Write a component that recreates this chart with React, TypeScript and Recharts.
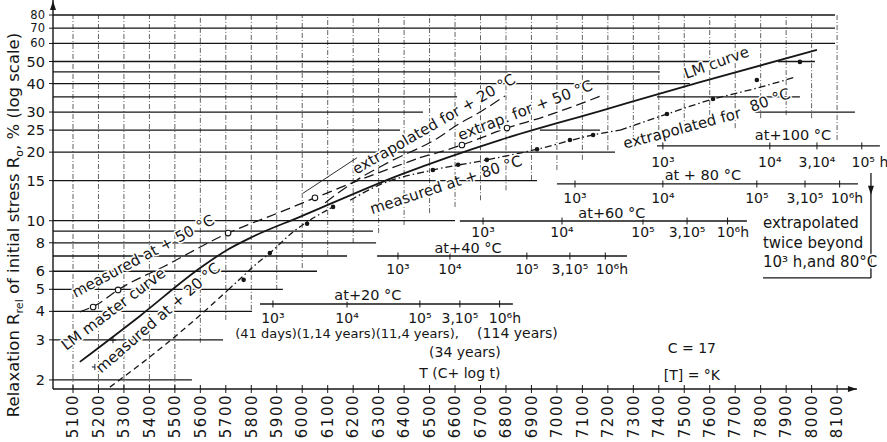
import React from 'react';
import {
  ComposedChart,
  Line,
  Scatter,
  XAxis,
  YAxis,
  ReferenceLine,
  ReferenceDot,
} from 'recharts';

const INK = '#161616';
const FONT = '"DejaVu Sans", Verdana, sans-serif';

// ── Ejes ─────────────────────────────────────────────────────────────────────
const xTicks = [
  5100, 5200, 5300, 5400, 5500, 5600, 5700, 5800, 5900, 6000, 6100, 6200, 6300, 6400, 6500, 6600,
  6700, 6800, 6900, 7000, 7100, 7200, 7300, 7400, 7500, 7600, 7700, 7800, 7900, 8000, 8100,
];
const yTicks = [2, 3, 4, 5, 6, 8, 10, 15, 20, 25, 30, 40, 50, 60, 70, 80];
const xDomain: [number, number] = [5021.5, 8296];
const yDomain: [number, number] = [1.825, 93.1];
const xAxisEnd = 8178;

// lower end of each dash-dot vertical grid line (they all reach 80)
const vGridBottoms = [
  1.825, 1.825, 1.825, 1.825, 1.825, 2.91, 3.67, 4.06, 4.97, 6.2, 7.07, 7.98, 8.83, 9.58, 10.8,
  11.5, 12.3, 13.6, 15.1, 16.7, 18.5, 20.4, 22.6, 25.0, 25.5, 26.3, 25.5, 28.2, 29.1, 28.2, 22.6,
];

// horizontal grid lines: [level, from, to]
const hGrid: [number, number, number][] = [
  [80, 5021.5, 8092], [70, 5021.5, 8092], [60, 5021.5, 8092],
  [50, 5021.5, 7609], [50, 7868, 8013],
  [45, 5021.5, 7404],
  [40, 5021.5, 7522],
  [35, 5021.5, 6608], [35, 7393, 7954],
  [30, 5021.5, 6474], [30, 7778, 8170],
  [25, 5021.5, 6384], [25, 6933, 7169],
  [20, 5021.5, 7228],
  [15, 5021.5, 6922],
  [10, 5021.5, 6600],
  [9, 5021.5, 6278],
  [8, 5021.5, 6290],
  [7, 5021.5, 6176],
  [6, 5021.5, 6058],
  [5, 5021.5, 5924],
  [4, 5021.5, 5803],
  [3, 5021.5, 5689],
  [2, 5021.5, 5567],
];

// ── Curvas ───────────────────────────────────────────────────────────────────
const lmMaster = [
  { x: 5127, y: 2.4 }, { x: 5363, y: 3.82 }, { x: 5599, y: 6.2 }, { x: 5705, y: 7.44 },
  { x: 5803, y: 8.48 }, { x: 5991, y: 10.4 }, { x: 6384, y: 15.9 }, { x: 6776, y: 22.6 },
  { x: 7169, y: 30.3 }, { x: 7562, y: 40.6 }, { x: 8021, y: 56.2 },
];
const measured50 = [
  { x: 5127, y: 3.98 }, { x: 5198, y: 4.31 }, { x: 5277, y: 4.97 }, { x: 5461, y: 6.33 },
  { x: 5709, y: 8.83 }, { x: 5913, y: 10.9 }, { x: 6050, y: 12.6 }, { x: 6278, y: 15.9 },
  { x: 6462, y: 18.9 },
];
const extrap50 = [
  { x: 6462, y: 18.9 }, { x: 6627, y: 21.5 }, { x: 6804, y: 25.5 }, { x: 6945, y: 28.5 },
  { x: 7181, y: 35.6 },
];
const circles50 = [
  { x: 5179, y: 4.18 }, { x: 5277, y: 4.97 }, { x: 5709, y: 8.83 }, { x: 6050, y: 12.6 },
  { x: 6627, y: 21.5 }, { x: 6804, y: 25.5 },
];
const measured20a = [
  { x: 5245, y: 1.86 }, { x: 5461, y: 2.85 }, { x: 5591, y: 3.78 }, { x: 5709, y: 4.97 },
];
const measured20b = [
  { x: 5709, y: 4.97 }, { x: 5764, y: 5.66 }, { x: 5815, y: 6.39 }, { x: 5873, y: 7.22 },
  { x: 5964, y: 8.92 }, { x: 6121, y: 11.5 },
];
const dots20 = [
  { x: 5770, y: 5.5 }, { x: 5873, y: 7.22 }, { x: 6019, y: 9.7 }, { x: 6121, y: 11.5 },
];
const extrap20 = [
  { x: 6090, y: 12.0 }, { x: 6215, y: 15.1 }, { x: 6333, y: 17.9 }, { x: 6533, y: 23.1 },
  { x: 6608, y: 26.3 }, { x: 6698, y: 30.0 }, { x: 6796, y: 35.3 },
];
const leader20 = [{ x: 6003, y: 13.2 }, { x: 6215, y: 18.9 }];
const measured80 = [
  { x: 6188, y: 12.3 }, { x: 6305, y: 14.4 }, { x: 6513, y: 16.7 }, { x: 6725, y: 18.5 },
  { x: 6922, y: 20.6 }, { x: 7142, y: 23.8 }, { x: 7248, y: 25.0 },
];
const dots80 = [
  { x: 6513, y: 16.7 }, { x: 6612, y: 17.6 }, { x: 6725, y: 18.5 }, { x: 6922, y: 20.6 },
  { x: 7051, y: 22.6 }, { x: 7142, y: 23.8 },
];
const extrap80 = [
  { x: 7248, y: 25.0 }, { x: 7432, y: 29.4 }, { x: 7613, y: 34.2 }, { x: 7785, y: 38.2 },
  { x: 7935, y: 42.7 },
];
const dots80x = [
  { x: 7432, y: 29.4 }, { x: 7613, y: 34.2 }, { x: 7785, y: 41.5 }, { x: 7954, y: 49.8 },
];
const plusMarks = [{ x: 5257, y: 2.99 }, { x: 5186, y: 2.28 }];

// ── Textos ───────────────────────────────────────────────────────────────────
const curveLabels = [
  { text: 'measured  at + 50 °C', x: 5375, y: 7.0, angle: -28 },
  { text: 'LM master curve', x: 5258, y: 4.1, angle: -37 },
  { text: 'measured at + 20 °C', x: 5433, y: 3.75, angle: -41 },
  { text: 'extrapolated for + 20 °C', x: 6517, y: 26.6, angle: -30 },
  { text: 'extrap. for + 50 °C', x: 6875, y: 30.6, angle: -21 },
  { text: 'measured  at + 80 °C', x: 6564, y: 14.4, angle: -18 },
  { text: 'LM curve', x: 7626, y: 49.5, angle: -20 },
  { text: 'extrapolated for', x: 7491, y: 25.5, angle: -15 },
  { text: '80 °C', x: 7836, y: 33.9, angle: -20 },
];

const tempScales = [
  {
    title: 'at+100 °C', titleX: 7927, titleY: 23.8, lineY: 21.3, from: 7393, to: 8268, labelY: 18.1,
    labels: ['10³', '10⁴', '3,10⁴', '10⁵ h'], labelX: [7416, 7836, 8021, 8229],
    tickX: [7416, 7836, 8021, 8197],
  },
  {
    title: 'at + 80 °C', titleX: 7573, titleY: 15.9, lineY: 14.5, from: 7000, to: 8182, labelY: 12.6,
    labels: ['10³', '10⁴', '10⁵', '3,10⁵', '10⁶h'], labelX: [7071, 7416, 7785, 7974, 8139],
    tickX: [7071, 7416, 7785, 7974, 8110],
  },
  {
    title: 'at+60 °C', titleX: 7216, titleY: 10.8, lineY: 9.97, from: 6619, to: 7746, labelY: 8.92,
    labels: ['10³', '10⁴', '10⁵', '3,10⁵', '10⁶h'], labelX: [6710, 7020, 7338, 7511, 7691],
    tickX: [6710, 7020, 7338, 7511, 7670],
  },
  {
    title: 'at+40 °C', titleX: 6651, titleY: 7.59, lineY: 7.0, from: 6294, to: 7275, labelY: 6.14,
    labels: ['10³', '10⁴', '10⁵', '3,10⁵', '10⁶h'], labelX: [6376, 6580, 6882, 7051, 7216],
    tickX: [6376, 6580, 6882, 7051, 7190],
  },
  {
    title: 'at+20 °C', titleX: 6258, titleY: 4.72, lineY: 4.31, from: 5834, to: 6827, labelY: 3.74,
    labels: ['10³', '10⁴', '10⁵', '3,10⁵', '10⁶h'], labelX: [5885, 6176, 6462, 6619, 6796],
    tickX: [5885, 6176, 6462, 6619, 6775],
  },
];

const notes = [
  { text: '(41 days)(1,14 years)(11,4 years),', x: 6176, y: 3.21 },
  { text: '(114 years)', x: 6845, y: 3.21 },
  { text: '(34 years)', x: 6639, y: 2.65 },
  { text: 'T (C+ log t)', x: 6619, y: 2.15 },
  { text: 'C = 17', x: 7530, y: 2.76 },
  { text: '[T] = °K', x: 7530, y: 2.1 },
];
const boxLines = ['extrapolated', 'twice beyond', '10³ h,and 80°C'];
const boxLineY = [9.77, 7.98, 6.59];
const boxLeft = 7809;
const boxRight = 8233;
const boxTop = 16.2;
const boxBottom = 5.61;

// ── Formas ───────────────────────────────────────────────────────────────────
const textShape =
  (text: string, angle = 0, size = 14.5, anchor: 'middle' | 'start' = 'middle') =>
  (p: any) => (
    <text
      x={p.cx}
      y={p.cy}
      dy="0.35em"
      textAnchor={anchor}
      fontSize={size}
      fill={INK}
      stroke="#fff"
      strokeWidth={3}
      strokeLinejoin="round"
      paintOrder="stroke"
      transform={angle ? `rotate(${angle} ${p.cx} ${p.cy})` : undefined}
    >
      {text}
    </text>
  );

const tickShape = (p: any) => (
  <line x1={p.cx} x2={p.cx} y1={p.cy - 3.5} y2={p.cy + 3.5} stroke={INK} strokeWidth={1} />
);
const arrowRight = (p: any) => (
  <path d={`M${p.cx},${p.cy} l-9,-3 l0,6 z`} fill={INK} />
);
const arrowUp = (p: any) => (
  <path d={`M${p.cx},${p.cy + 1} l-3,9 l6,0 z`} fill={INK} />
);
const arrowDown = (p: any) => (
  <path d={`M${p.cx},${p.cy} l-3,-9 l6,0 z`} fill={INK} />
);
const openCircle = (p: any) => (
  <circle cx={p.cx} cy={p.cy} r={2.8} fill="#fff" stroke={INK} strokeWidth={1.1} />
);
const fullDot = (p: any) => <circle cx={p.cx} cy={p.cy} r={2.3} fill={INK} />;
const plusShape = (p: any) => (
  <path d={`M${p.cx - 3},${p.cy} h6 M${p.cx},${p.cy - 3} v6`} stroke={INK} strokeWidth={1} />
);

const renderXTick = ({ x, y, payload }: any) => (
  <g>
    <line x1={x} x2={x} y1={y - 9} y2={y - 1} stroke={INK} strokeWidth={1} />
    <text
      x={x}
      y={y}
      dy="0.35em"
      textAnchor="end"
      fontSize={15}
      letterSpacing={1.5}
      fill={INK}
      transform={`rotate(-90 ${x} ${y})`}
    >
      {payload.value}
    </text>
  </g>
);

// the top three labels sit very close together, so they are set smaller
const renderYTick = ({ x, y, payload }: any) => (
  <text x={x} y={y} dy="0.35em" textAnchor="end" fontSize={payload.value >= 60 ? 11.5 : 14.5} fill={INK}>
    {payload.value}
  </text>
);

const renderYTitle = () => (
  <text transform="translate(13 225) rotate(-90)" textAnchor="middle" dy="0.35em" fontSize={16.5} fill={INK}>
    Relaxation R
    <tspan fontSize={11} dy={4}>rel</tspan>
    <tspan dy={-4}> of initial stress R</tspan>
    <tspan fontSize={11} dy={4}>o</tspan>
    <tspan dy={-4}>, % (log scale)</tspan>
  </text>
);

const lineProps = {
  dataKey: 'y',
  type: 'monotone' as const,
  stroke: INK,
  dot: false,
  activeDot: false,
  isAnimationActive: false,
};

export default function App() {
  return (
    <div style={{ position: 'absolute', left: 0, top: 0, fontFamily: FONT, background: '#fff' }}>
      <ComposedChart width={887} height={442} margin={{ top: 0, right: 0, bottom: 0, left: 0 }}>
        <XAxis
          type="number"
          dataKey="x"
          domain={xDomain}
          allowDataOverflow
          ticks={xTicks}
          interval={0}
          height={53}
          tickSize={0}
          tickMargin={5}
          axisLine={false}
          tick={renderXTick}
        />
        <YAxis
          type="number"
          scale="log"
          domain={yDomain}
          allowDataOverflow
          ticks={yTicks}
          interval={0}
          width={53}
          tickSize={4}
          tickMargin={4}
          axisLine={{ stroke: INK, strokeWidth: 1.4 }}
          tickLine={{ stroke: INK }}
          tick={renderYTick}
          label={{ content: renderYTitle }}
        />

        {/* rejilla vertical punto-raya */}
        {xTicks.map((t, i) => (
          <ReferenceLine
            key={`v${t}`}
            segment={[{ x: t, y: vGridBottoms[i] }, { x: t, y: 80 }]}
            stroke="#3a3a3a"
            strokeWidth={0.8}
            strokeDasharray="5 2 1 2"
            ifOverflow="visible"
          />
        ))}

        {/* rejilla horizontal escalonada */}
        {hGrid.map(([v, a, b], i) => (
          <ReferenceLine
            key={`h${i}`}
            segment={[{ x: a, y: v }, { x: b, y: v }]}
            stroke={INK}
            strokeWidth={1.3}
            ifOverflow="visible"
          />
        ))}

        {/* eje x con flecha */}
        <ReferenceLine
          segment={[{ x: xDomain[0], y: yDomain[0] }, { x: xAxisEnd, y: yDomain[0] }]}
          stroke={INK}
          strokeWidth={1.4}
          ifOverflow="visible"
        />
        <ReferenceDot x={xAxisEnd} y={yDomain[0]} r={0} shape={arrowRight} ifOverflow="visible" />
        <ReferenceDot x={xDomain[0]} y={yDomain[1]} r={0} shape={arrowUp} ifOverflow="visible" />

        {/* escalas de tiempo por temperatura */}
        {tempScales.map((s, i) => (
          <ReferenceLine
            key={`sl${i}`}
            segment={[{ x: s.from, y: s.lineY }, { x: s.to, y: s.lineY }]}
            stroke={INK}
            strokeWidth={1.3}
            ifOverflow="visible"
          />
        ))}
        {tempScales.flatMap((s, i) =>
          s.tickX.map((tx, j) => (
            <ReferenceDot key={`st${i}-${j}`} x={tx} y={s.lineY} r={0} shape={tickShape} ifOverflow="visible" />
          ))
        )}

        {/* recuadro de nota */}
        <ReferenceLine
          segment={[{ x: boxRight, y: boxTop }, { x: boxRight, y: boxBottom }]}
          stroke={INK}
          strokeWidth={1.3}
          ifOverflow="visible"
        />
        <ReferenceLine
          segment={[{ x: boxLeft, y: boxBottom }, { x: boxRight, y: boxBottom }]}
          stroke={INK}
          strokeWidth={1.3}
          ifOverflow="visible"
        />
        <ReferenceDot x={boxRight} y={13.0} r={0} shape={arrowDown} ifOverflow="visible" />

        {/* curvas */}
        <Line {...lineProps} data={lmMaster} strokeWidth={1.8} />
        <Line {...lineProps} data={measured50} strokeWidth={1.3} strokeDasharray="10 5" />
        <Line {...lineProps} data={extrap50} strokeWidth={1.3} strokeDasharray="10 5" />
        <Line {...lineProps} data={measured20a} strokeWidth={1.3} strokeDasharray="6 4" />
        <Line {...lineProps} data={measured20b} strokeWidth={1.3} strokeDasharray="6 3 1.5 3" />
        <Line {...lineProps} data={extrap20} strokeWidth={1.2} strokeDasharray="11 5" />
        <Line {...lineProps} type="linear" data={leader20} strokeWidth={0.9} />
        <Line {...lineProps} data={measured80} strokeWidth={1.3} strokeDasharray="7 3 1.5 3" />
        <Line {...lineProps} data={extrap80} strokeWidth={1.3} strokeDasharray="7 3 1.5 3" />

        <Scatter data={circles50} dataKey="y" shape={openCircle} isAnimationActive={false} />
        <Scatter data={dots20} dataKey="y" shape={fullDot} isAnimationActive={false} />
        <Scatter data={dots80} dataKey="y" shape={fullDot} isAnimationActive={false} />
        <Scatter data={dots80x} dataKey="y" shape={fullDot} isAnimationActive={false} />
        <Scatter data={plusMarks} dataKey="y" shape={plusShape} isAnimationActive={false} />

        {/* rótulos */}
        {curveLabels.map((c, i) => (
          <ReferenceDot
            key={`cl${i}`}
            x={c.x}
            y={c.y}
            r={0}
            shape={textShape(c.text, c.angle, 15)}
            ifOverflow="visible"
          />
        ))}
        {tempScales.map((s, i) => (
          <ReferenceDot
            key={`tt${i}`}
            x={s.titleX}
            y={s.titleY}
            r={0}
            shape={textShape(s.title, 0, 14.5)}
            ifOverflow="visible"
          />
        ))}
        {tempScales.flatMap((s, i) =>
          s.labels.map((lb, j) => (
            <ReferenceDot
              key={`tl${i}-${j}`}
              x={s.labelX[j]}
              y={s.labelY}
              r={0}
              shape={textShape(lb, 0, 14)}
              ifOverflow="visible"
            />
          ))
        )}
        {notes.map((n, i) => (
          <ReferenceDot
            key={`n${i}`}
            x={n.x}
            y={n.y}
            r={0}
            shape={textShape(n.text, 0, i === 0 ? 13 : 14)}
            ifOverflow="visible"
          />
        ))}
        {boxLines.map((t, i) => (
          <ReferenceDot
            key={`b${i}`}
            x={boxLeft}
            y={boxLineY[i]}
            r={0}
            shape={textShape(t, 0, 15, 'start')}
            ifOverflow="visible"
          />
        ))}
      </ComposedChart>
    </div>
  );
}
